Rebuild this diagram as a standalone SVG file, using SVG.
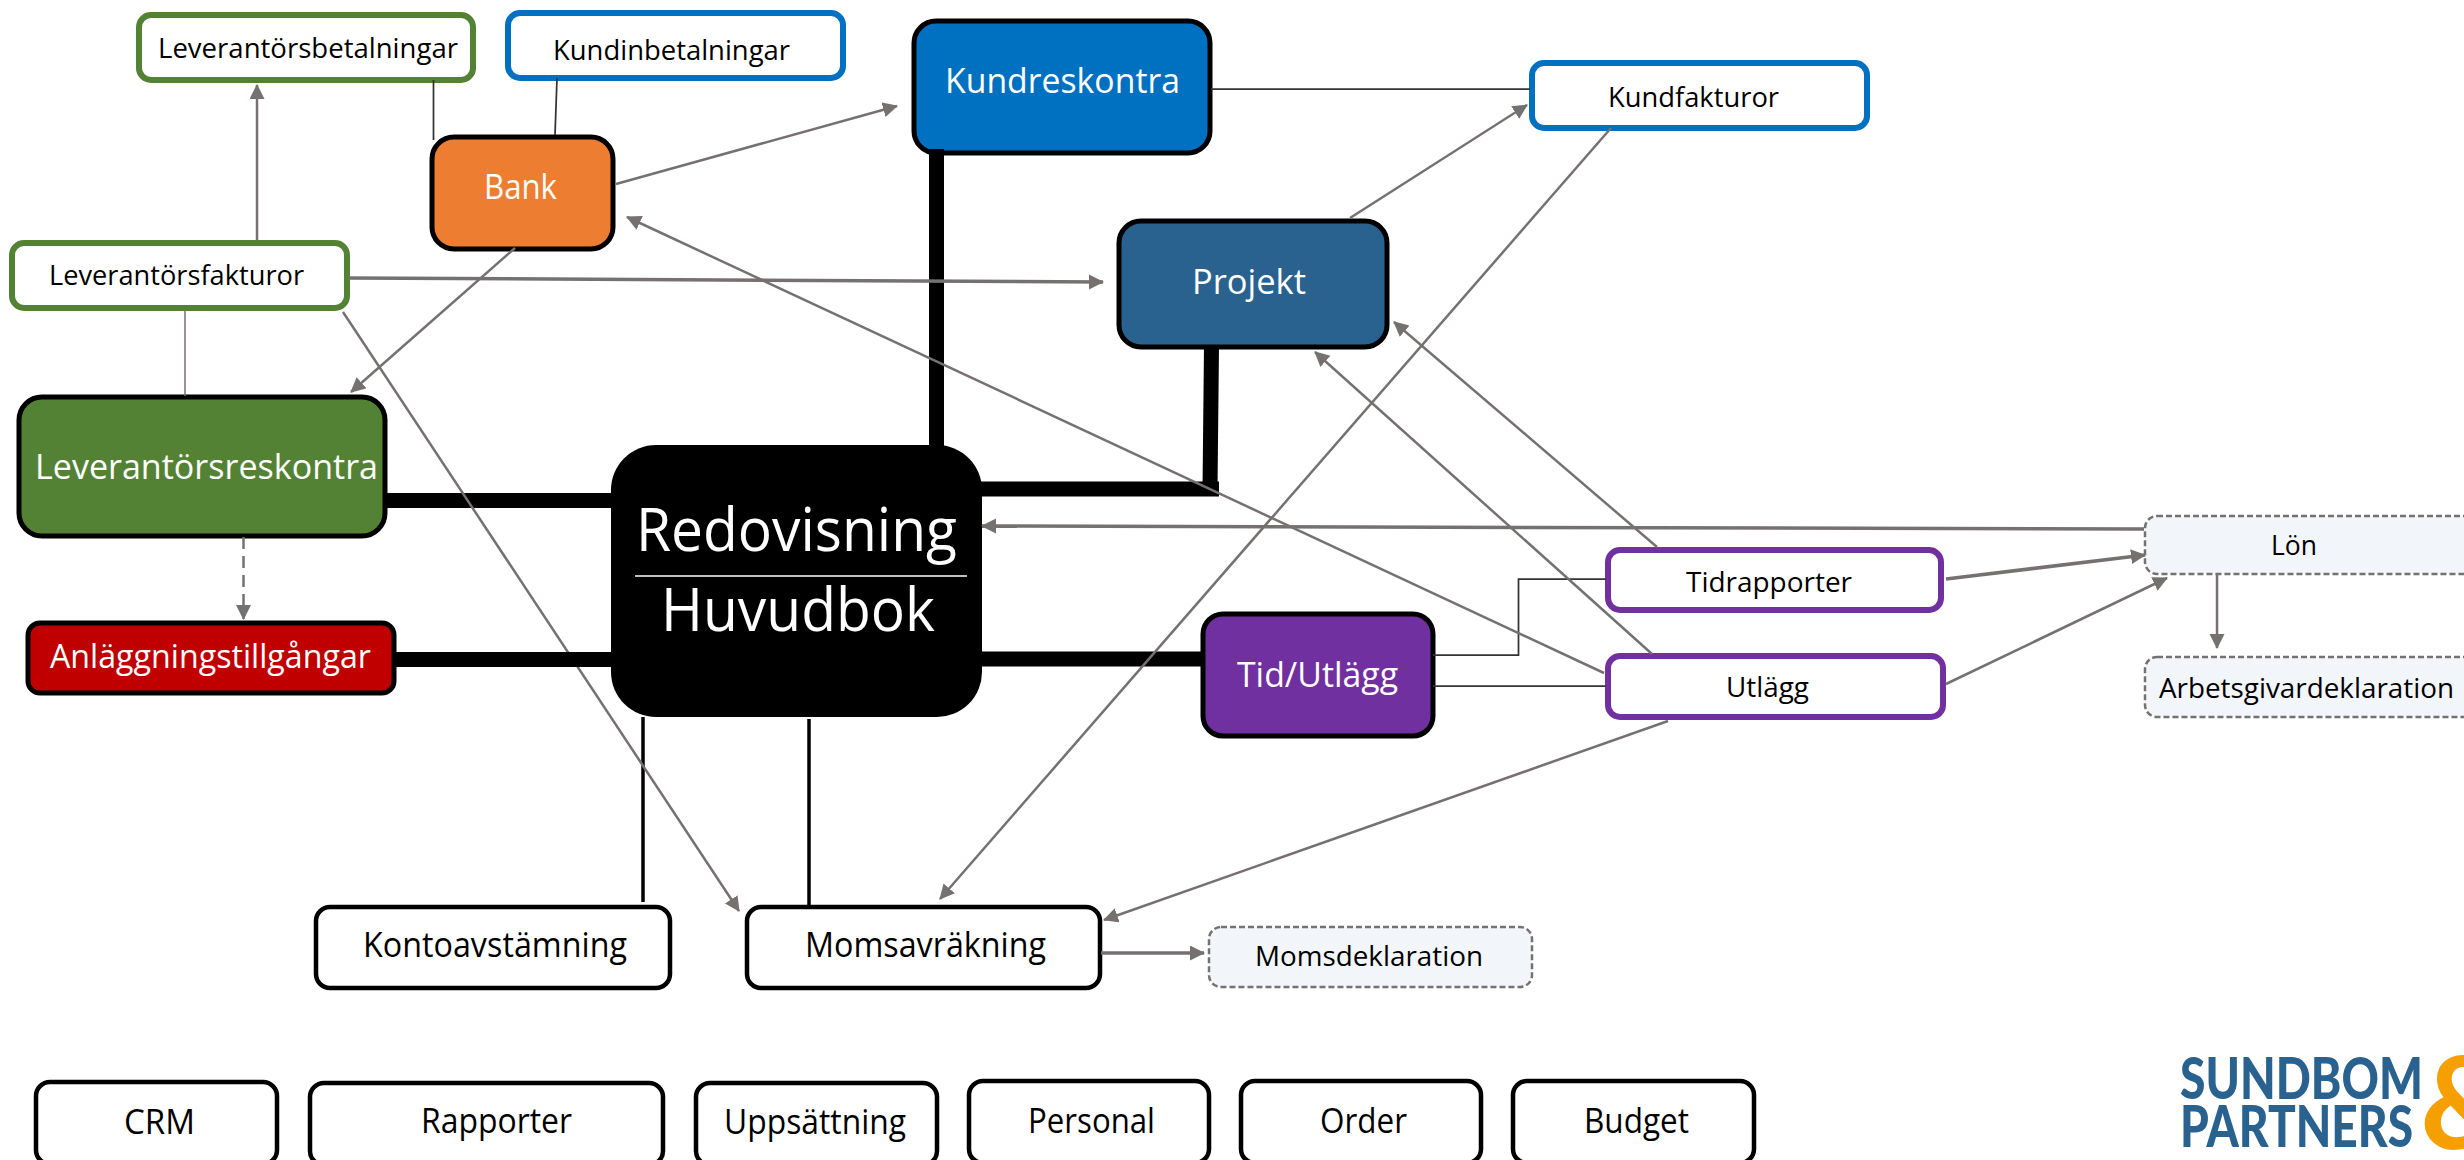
<svg xmlns="http://www.w3.org/2000/svg" width="2464" height="1160" viewBox="0 0 2464 1160">
<style>
text{font-family:"Open Sans","Liberation Sans",sans-serif;fill:#000}
.w{fill:#fff}
.n{stroke:#000;stroke-width:5}
.o{fill:#fff;stroke-width:6}
.g{stroke:#548235}.b{stroke:#0070C0}.p{stroke:#7030A0}
.k{fill:#fff;stroke:#000;stroke-width:4.5}
.d{fill:#F2F6FA;stroke:#767171;stroke-width:2.5;stroke-dasharray:6 3}
.a{stroke:#767171;stroke-width:2.5;fill:none;marker-end:url(#ah)}
.a3{stroke:#767171;stroke-width:3.5;fill:none;marker-end:url(#ah)}
.t{stroke:#000;stroke-width:15;fill:none}
.l{stroke:#333;stroke-width:1.75;fill:none}
.m{stroke:#000;stroke-width:3.5;fill:none}
.logo{font-family:"Lato","Liberation Sans",sans-serif;font-weight:900;fill:#2A628F}
</style>
<defs>
<marker id="ah" markerUnits="userSpaceOnUse" markerWidth="16" markerHeight="16" refX="14" refY="7.5" orient="auto"><path d="M0 0L15 7.5L0 15Z" fill="#767171"/></marker>
</defs>
<rect width="2464" height="1160" fill="#fff"/>

<g id="node-redovisning">
<rect x="611" y="445" width="371" height="272" rx="45" fill="#000"/>
<line x1="635" y1="576" x2="967" y2="576" stroke="#fff" stroke-width="1.5"/>
<text class="w" x="636" y="551" font-size="60" textLength="321" lengthAdjust="spacingAndGlyphs">Redovisning</text>
<text class="w" x="661" y="631" font-size="60" textLength="274" lengthAdjust="spacingAndGlyphs">Huvudbok</text>
</g>
<g id="node-leverantorsbetalningar"><rect class="o g" x="139" y="15" width="334" height="65" rx="12"/><text x="158" y="58" font-size="28" textLength="300" lengthAdjust="spacingAndGlyphs">Leverantörsbetalningar</text></g>
<g id="node-kundinbetalningar"><rect class="o b" x="508" y="13" width="335" height="65" rx="12"/><text x="553" y="60" font-size="28" textLength="237" lengthAdjust="spacingAndGlyphs">Kundinbetalningar</text></g>
<g id="node-bank"><rect class="n" x="432" y="137" width="181" height="112" rx="22" fill="#ED7D31"/><text class="w" x="484" y="199" font-size="34" textLength="73" lengthAdjust="spacingAndGlyphs">Bank</text></g>
<g id="node-leverantorsfakturor"><rect class="o g" x="12" y="243" width="335" height="65" rx="12"/><text x="49" y="285" font-size="28" textLength="255" lengthAdjust="spacingAndGlyphs">Leverantörsfakturor</text></g>
<g id="node-kundreskontra"><rect class="n" x="914" y="21" width="296" height="132" rx="22" fill="#0070C0"/><text class="w" x="945" y="93" font-size="35" textLength="235" lengthAdjust="spacingAndGlyphs">Kundreskontra</text></g>
<g id="node-kundfakturor"><rect class="o b" x="1532" y="63" width="335" height="65" rx="12"/><text x="1608" y="107" font-size="27" textLength="171" lengthAdjust="spacingAndGlyphs">Kundfakturor</text></g>
<g id="node-projekt"><rect class="n" x="1119" y="221" width="268" height="126" rx="22" fill="#2A628F"/><text class="w" x="1192" y="294" font-size="35" textLength="114" lengthAdjust="spacingAndGlyphs">Projekt</text></g>
<g id="node-leverantorsreskontra"><rect class="n" x="19" y="397" width="366" height="139" rx="23" fill="#548235"/><text class="w" x="35" y="479" font-size="35" textLength="343" lengthAdjust="spacingAndGlyphs">Leverantörsreskontra</text></g>
<g id="node-anlaggningstillgangar"><rect class="n" x="28" y="623" width="366" height="70" rx="12" fill="#C00000"/><text class="w" x="50" y="668" font-size="33" textLength="321" lengthAdjust="spacingAndGlyphs">Anläggningstillgångar</text></g>
<g id="node-tidutlagg"><rect class="n" x="1203" y="614" width="230" height="122" rx="20" fill="#7030A0"/><text class="w" x="1237" y="687" font-size="35" textLength="161" lengthAdjust="spacingAndGlyphs">Tid/Utlägg</text></g>
<g id="node-tidrapporter"><rect class="o p" x="1608" y="550" width="333" height="60" rx="12"/><text x="1686" y="592" font-size="28" textLength="166" lengthAdjust="spacingAndGlyphs">Tidrapporter</text></g>
<g id="node-utlagg"><rect class="o p" x="1608" y="656" width="335" height="61" rx="12"/><text x="1726" y="697" font-size="28" textLength="83" lengthAdjust="spacingAndGlyphs">Utlägg</text></g>
<g id="node-lon"><rect class="d" x="2145" y="516" width="331" height="58" rx="12"/><text x="2271" y="555" font-size="28" textLength="46" lengthAdjust="spacingAndGlyphs">Lön</text></g>
<g id="node-arbetsgivardeklaration"><rect class="d" x="2145" y="657" width="331" height="60" rx="12"/><text x="2159" y="698" font-size="28" textLength="295" lengthAdjust="spacingAndGlyphs">Arbetsgivardeklaration</text></g>
<g id="node-kontoavstamning"><rect class="k" x="316" y="907" width="354" height="81" rx="14"/><text x="363" y="957" font-size="34" textLength="264" lengthAdjust="spacingAndGlyphs">Kontoavstämning</text></g>
<g id="node-momsavrakning"><rect class="k" x="747" y="907" width="353" height="81" rx="14"/><text x="805" y="957" font-size="34" textLength="241" lengthAdjust="spacingAndGlyphs">Momsavräkning</text></g>
<g id="node-momsdeklaration"><rect class="d" x="1209" y="927" width="323" height="60" rx="12"/><text x="1255" y="966" font-size="28" textLength="228" lengthAdjust="spacingAndGlyphs">Momsdeklaration</text></g>

<g id="node-crm"><rect class="k" x="36" y="1082" width="241" height="82" rx="14"/><text x="124" y="1134" font-size="34" textLength="71" lengthAdjust="spacingAndGlyphs">CRM</text></g>
<g id="node-rapporter"><rect class="k" x="310" y="1083" width="353" height="82" rx="14"/><text x="421" y="1133" font-size="34" textLength="151" lengthAdjust="spacingAndGlyphs">Rapporter</text></g>
<g id="node-uppsattning"><rect class="k" x="696" y="1083" width="241" height="82" rx="14"/><text x="724" y="1134" font-size="34" textLength="182" lengthAdjust="spacingAndGlyphs">Uppsättning</text></g>
<g id="node-personal"><rect class="k" x="969" y="1081" width="240" height="82" rx="14"/><text x="1028" y="1133" font-size="34" textLength="127" lengthAdjust="spacingAndGlyphs">Personal</text></g>
<g id="node-order"><rect class="k" x="1241" y="1081" width="240" height="82" rx="14"/><text x="1320" y="1133" font-size="34" textLength="87" lengthAdjust="spacingAndGlyphs">Order</text></g>
<g id="node-budget"><rect class="k" x="1513" y="1081" width="241" height="82" rx="14"/><text x="1584" y="1133" font-size="34" textLength="105" lengthAdjust="spacingAndGlyphs">Budget</text></g>

<g id="connectors">
<line class="t" x1="386" y1="500.500" x2="611" y2="500.500"/>
<line class="t" x1="936.500" y1="149" x2="936.500" y2="447"/>
<path class="t" d="M980 489H1219"/>
<line class="t" x1="1211.500" y1="346" x2="1210" y2="489"/>
<line class="t" x1="982" y1="659" x2="1204" y2="659"/>

<line class="l" x1="433.500" y1="80" x2="433.500" y2="140"/>
<line class="l" x1="557" y1="78" x2="555" y2="135"/>
<line class="l" x1="1211" y1="89" x2="1530" y2="89"/>
<line x1="185" y1="310" x2="185" y2="396" stroke="#767171" stroke-width="1.500"/>
<path class="l" d="M1433 655H1518.500V579H1606"/>
<line class="l" x1="1433" y1="686" x2="1606" y2="686"/>
<line class="m" x1="643" y1="717" x2="643" y2="902"/>
<line class="m" x1="809" y1="719" x2="809" y2="906"/>

<line class="a" x1="257" y1="240" x2="257" y2="85"/>
<line class="a" x1="616" y1="184" x2="897" y2="106"/>
<line class="a" x1="515" y1="248" x2="351" y2="392"/>
<line class="a3" x1="348" y1="278" x2="1103" y2="282"/>
<line class="a" x1="343" y1="312" x2="739" y2="911"/>
<line class="a" x1="1604" y1="673" x2="627" y2="217"/>
<line class="a" x1="1350" y1="218" x2="1527" y2="105"/>
<line class="a" x1="1611" y1="128" x2="940" y2="899"/>
<line class="a" x1="1668" y1="721" x2="1104" y2="920"/>
<line class="a3" x1="1101" y1="953" x2="1204" y2="953"/>
<line class="a" x1="1657" y1="547" x2="1394" y2="322"/>
<line class="a" x1="1652" y1="654" x2="1315" y2="352"/>
<line class="a3" x1="2144" y1="529" x2="982" y2="526"/>
<line class="a3" x1="1946" y1="579" x2="2145" y2="555"/>
<line class="a" x1="1946" y1="684" x2="2167" y2="578"/>
<line class="a" x1="2217" y1="574" x2="2217" y2="648"/>
<line class="a" stroke-dasharray="12 7" x1="243.500" y1="537" x2="243.500" y2="619"/>
<line class="t" x1="395" y1="659.500" x2="611" y2="659.500"/>
</g>

<g id="logo">
<text class="logo" x="2180" y="1099" font-size="57" textLength="243" lengthAdjust="spacingAndGlyphs">SUNDBOM</text>
<text class="logo" x="2180" y="1147" font-size="57" textLength="233" lengthAdjust="spacingAndGlyphs">PARTNERS</text>
<text x="2420" y="1149" font-size="128" style="font-family:Lato,'Liberation Sans',sans-serif;font-weight:700;fill:#F5A000">&amp;</text>
</g>
</svg>
